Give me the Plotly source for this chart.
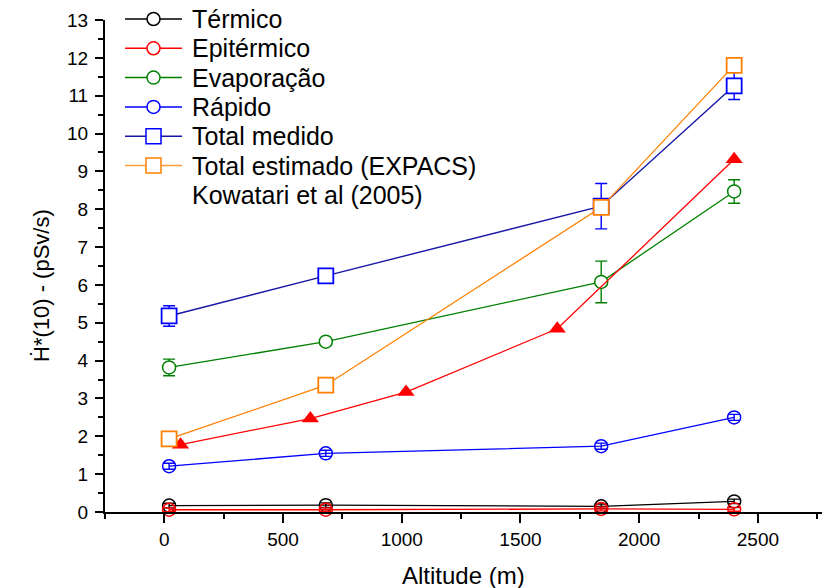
import plotly.graph_objects as go

# ---- data ----
altitude = [20, 680, 1840, 2400]
termico = [0.17, 0.18, 0.15, 0.28]
termico_err = [0.06, 0.06, 0.06, 0.06]
epitermico = [0.06, 0.06, 0.08, 0.07]
epitermico_err = [0.05, 0.05, 0.05, 0.05]
evaporacao = [3.82, 4.50, 6.08, 8.47]
evaporacao_err = [0.22, 0.05, 0.55, 0.31]
rapido = [1.21, 1.55, 1.74, 2.50]
rapido_err = [0.08, 0.08, 0.08, 0.08]
total_medido = [5.18, 6.24, 8.08, 11.26]
total_medido_err = [0.27, 0.05, 0.60, 0.36]
total_estimado = [1.93, 3.35, 8.05, 11.80]
kowatari_alt = [68, 615, 1018, 1655, 2400]
kowatari = [1.78, 2.47, 3.17, 4.84, 9.32]

x_ticks = [0, 500, 1000, 1500, 2000, 2500]
y_ticks = list(range(0, 14))

series_names = ["Térmico", "Epitérmico", "Evaporação", "Rápido",
                "Total medido", "Total estimado (EXPACS)", "Kowatari et al (2005)"]

FONT = "Liberation Sans, Arial, sans-serif"
C_TERM, C_EPI, C_EVAP, C_RAP = "#000000", "#FF0000", "#008000", "#0000FF"
C_TOT_LINE, C_TOT, C_EST = "#1515A8", "#0000FF", "#FF8000"

fig = go.Figure()

def circ_trace(name, y, err, color, fill):
    return go.Scatter(
        x=altitude, y=y, name=name, mode="lines+markers",
        line=dict(color=color, width=1.3),
        marker=dict(symbol="circle", size=13, color=fill, line=dict(width=1.5, color=color)),
        error_y=dict(type="data", array=err, color=color, thickness=1.4, width=6, visible=True),
        cliponaxis=False, showlegend=False,
    )

fig.add_trace(circ_trace(series_names[0], termico, termico_err, C_TERM, "rgba(255,255,255,0)"))
fig.add_trace(circ_trace(series_names[1], epitermico, epitermico_err, C_EPI, "rgba(255,255,255,0)"))
fig.add_trace(circ_trace(series_names[2], evaporacao, evaporacao_err, C_EVAP, "white"))
fig.add_trace(circ_trace(series_names[3], rapido, rapido_err, C_RAP, "rgba(255,255,255,0)"))

fig.add_trace(go.Scatter(
    x=altitude, y=total_medido, name=series_names[4], mode="lines+markers",
    line=dict(color=C_TOT_LINE, width=1.4),
    marker=dict(symbol="square", size=15, color="white", line=dict(width=1.8, color=C_TOT)),
    error_y=dict(type="data", array=total_medido_err, color=C_TOT, thickness=1.4, width=6, visible=True),
    cliponaxis=False, showlegend=False,
))

fig.add_trace(go.Scatter(
    x=kowatari_alt, y=kowatari, name=series_names[6], mode="lines+markers",
    line=dict(color=C_EPI, width=1.3),
    marker=dict(symbol="triangle-up", size=15, color=C_EPI),
    showlegend=False, cliponaxis=False,
))

fig.add_trace(go.Scatter(
    x=altitude, y=total_estimado, name=series_names[5], mode="lines+markers",
    line=dict(color=C_EST, width=1.3),
    marker=dict(symbol="square", size=15, color="white", line=dict(width=1.8, color=C_EST)),
    cliponaxis=False, showlegend=False,
))

# ---- manual legend (pixel-placed in paper coordinates) ----
W, H = 824, 588
ML, MR, MT, MB = 105, 2, 20, 76
PW, PH = W - ML - MR, H - MT - MB

def px_x(px):
    return (px - ML) / PW

def px_y(py):
    return (H - MB - py) / PH

legend_styles = [
    (C_TERM, C_TERM, "circle"),
    (C_EPI, C_EPI, "circle"),
    (C_EVAP, C_EVAP, "circle"),
    (C_RAP, C_RAP, "circle"),
    (C_TOT_LINE, C_TOT, "square"),
    ("#FF9A40", C_EST, "square"),
    (None, None, None),
]
shapes = []
annotations = []
for i, (name, (lcol, mcol, sym)) in enumerate(zip(series_names, legend_styles)):
    yc = 19 + i * 29.3
    yp = px_y(yc)
    if lcol is not None:
        shapes.append(dict(type="line", xref="paper", yref="paper",
                           x0=px_x(125), x1=px_x(182), y0=yp, y1=yp,
                           line=dict(color=lcol, width=1.5)))
        half = 6.5 if sym == "circle" else 7.5
        shapes.append(dict(type="circle" if sym == "circle" else "rect",
                           xref="paper", yref="paper",
                           xsizemode="pixel", ysizemode="pixel",
                           xanchor=px_x(153.5), yanchor=yp,
                           x0=-half, x1=half, y0=-half, y1=half,
                           fillcolor="white", line=dict(color=mcol, width=1.5)))
    annotations.append(dict(x=px_x(190), y=yp, xref="paper", yref="paper",
                            text=name, showarrow=False, xanchor="left", yanchor="middle",
                            font=dict(family=FONT, size=25, color="black")))

# axis titles as annotations to match placement
annotations.append(dict(x=px_x(41), y=px_y(286), xref="paper", yref="paper",
                        text="Ḣ*(10) - (pSv/s)", showarrow=False, textangle=-90,
                        xanchor="center", yanchor="middle",
                        font=dict(family=FONT, size=22, color="black")))
annotations.append(dict(x=px_x(463), y=px_y(575), xref="paper", yref="paper",
                        text="Altitude (m)", showarrow=False,
                        xanchor="center", yanchor="middle",
                        font=dict(family=FONT, size=24, color="black")))

fig.update_layout(
    width=W, height=H,
    margin=dict(l=ML, r=MR, t=MT, b=MB),
    plot_bgcolor="white", paper_bgcolor="white",
    font=dict(family=FONT, color="black", size=18),
    showlegend=False,
    shapes=shapes,
    annotations=annotations,
    xaxis=dict(
        range=[-250, 2770], tickvals=x_ticks, ticktext=[str(v) for v in x_ticks],
        ticks="outside", ticklen=9, tickwidth=2, tickcolor="black",
        minor=dict(dtick=250, tick0=0, ticks="outside", ticklen=5, tickwidth=2, tickcolor="black"),
        showline=True, linewidth=2, linecolor="black", mirror=False,
        showgrid=False, zeroline=False,
        tickfont=dict(family=FONT, size=19),
    ),
    yaxis=dict(
        range=[0, 13], tickvals=y_ticks, ticktext=[str(v) for v in y_ticks],
        ticks="outside", ticklen=8, tickwidth=2, tickcolor="black",
        minor=dict(dtick=0.5, tick0=0, ticks="outside", ticklen=5, tickwidth=2, tickcolor="black"),
        showline=True, linewidth=2, linecolor="black", mirror=False,
        showgrid=False, zeroline=False,
        tickfont=dict(family=FONT, size=19),
        ticklabelstandoff=3,
    ),
)

fig.write_html("out.html")
